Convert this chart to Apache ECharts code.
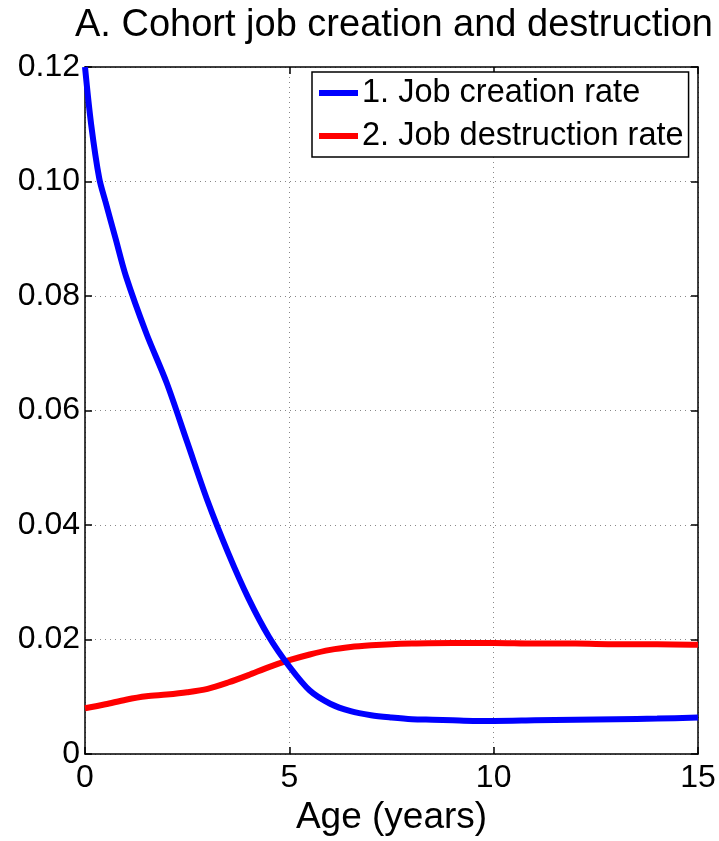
<!DOCTYPE html>
<html>
<head>
<meta charset="utf-8">
<script src="https://cdn.jsdelivr.net/npm/echarts@6/dist/echarts.min.js"></script>
<style>
  html, body { margin: 0; padding: 0; background: #fff; }
  #chart { width: 719px; height: 841px; }
</style>
</head>
<body>
<div id="chart"></div>
<script>
// age in years
var ageCreation = [0, 0.15, 0.35, 0.5, 0.75, 1, 1.5, 2, 2.5, 3, 3.5, 4, 4.5, 5, 5.5, 6, 6.5, 7, 7.5, 8, 8.5, 9, 9.5, 10, 11, 12, 13, 14, 15];
var jobCreation = [0.120, 0.110, 0.1005, 0.0965, 0.0900, 0.0835, 0.0735, 0.0648, 0.0545, 0.0442, 0.0352, 0.0272, 0.0205, 0.0153, 0.0111, 0.0088, 0.0075, 0.0068, 0.0064, 0.0061, 0.0060, 0.0059, 0.0058, 0.0058, 0.0059, 0.0060, 0.0061, 0.0062, 0.0064];
var ageDestruction = [0, 0.5, 1, 1.5, 2, 2.5, 3, 3.5, 4, 4.5, 5, 5.5, 6, 6.5, 7, 7.5, 8, 9, 10, 11, 12, 13, 14, 15];
var jobDestruction = [0.0080, 0.0087, 0.0095, 0.0101, 0.0104, 0.0108, 0.0114, 0.0125, 0.0138, 0.0152, 0.0164, 0.0174, 0.0182, 0.0187, 0.0190, 0.0192, 0.0193, 0.0194, 0.0194, 0.0193, 0.0193, 0.0192, 0.0192, 0.0191];
var seriesNames = ['1. Job creation rate', '2. Job destruction rate'];
var xTicks = [0, 15, 5];      // min, max, interval
var yTicks = [0, 0.12, 0.02];

function pairs(xs, ys) {
  var rs = [];
  for (let i = 0; i < xs.length; i++) {
    rs.push([xs[i], ys[i]]);
  }
  return rs;
}

var font = '"Liberation Sans", Arial, Helvetica, sans-serif';
var grid = { left: 85, right: 21, top: 67, bottom: 78 };
var dotted = { show: true, lineStyle: { color: '#888', type: [1, 4], width: 1 } };
var tick = { show: true, inside: true, length: 7, lineStyle: { color: '#000', width: 1.5 } };
var axisLine = { show: true, onZero: false, lineStyle: { color: '#000', width: 1.5 } };

var ec = echarts.init(document.getElementById('chart'));
ec.setOption({
  animation: false,
  backgroundColor: '#fff',
  title: {
    text: 'A. Cohort job creation and destruction',
    left: 70,
    top: 2,
    textStyle: { fontFamily: font, fontSize: 38, fontWeight: 'normal', color: '#000' }
  },
  legend: {
    data: seriesNames,
    orient: 'vertical',
    left: 312,
    top: 72,
    padding: [4, 5, 4, 7],
    itemGap: 9,
    itemWidth: 39,
    itemHeight: 6,
    icon: 'rect',
    backgroundColor: '#fff',
    borderColor: '#000',
    borderWidth: 1.5,
    borderRadius: 0,
    textStyle: { fontFamily: font, fontSize: 32.5, color: '#000', lineHeight: 34, padding: [0, 0, 0, -1] }
  },
  grid: grid,
  xAxis: [{
    type: 'value',
    min: xTicks[0], max: xTicks[1], interval: xTicks[2],
    position: 'bottom',
    name: 'Age (years)',
    nameLocation: 'middle',
    nameGap: 33,
    nameTextStyle: { fontFamily: font, fontSize: 37, color: '#000' },
    axisLine: axisLine,
    axisTick: tick,
    splitLine: dotted,
    axisLabel: { fontFamily: font, fontSize: 32, color: '#000', margin: 8 }
  }, {
    type: 'value',
    min: xTicks[0], max: xTicks[1], interval: xTicks[2],
    position: 'top',
    axisLine: axisLine,
    axisTick: tick,
    splitLine: { show: false },
    axisLabel: { show: false }
  }],
  yAxis: [{
    type: 'value',
    min: yTicks[0], max: yTicks[1], interval: yTicks[2],
    position: 'left',
    axisLine: axisLine,
    axisTick: tick,
    splitLine: dotted,
    axisLabel: {
      fontFamily: font, fontSize: 32, color: '#000', margin: 5,
      formatter: function (v) { return v === 0 ? '0' : v.toFixed(2); }
    }
  }, {
    type: 'value',
    min: yTicks[0], max: yTicks[1], interval: yTicks[2],
    position: 'right',
    axisLine: axisLine,
    axisTick: tick,
    splitLine: { show: false },
    axisLabel: { show: false }
  }],
  series: [{
    name: seriesNames[0],
    type: 'line',
    data: pairs(ageCreation, jobCreation),
    smooth: 0.3,
    showSymbol: false,
    color: '#0000ff',
    lineStyle: { color: '#0000ff', width: 6 },
    z: 3
  }, {
    name: seriesNames[1],
    type: 'line',
    data: pairs(ageDestruction, jobDestruction),
    smooth: 0.3,
    showSymbol: false,
    color: '#ff0000',
    lineStyle: { color: '#ff0000', width: 6 },
    z: 2
  }]
});
</script>
</body>
</html>
